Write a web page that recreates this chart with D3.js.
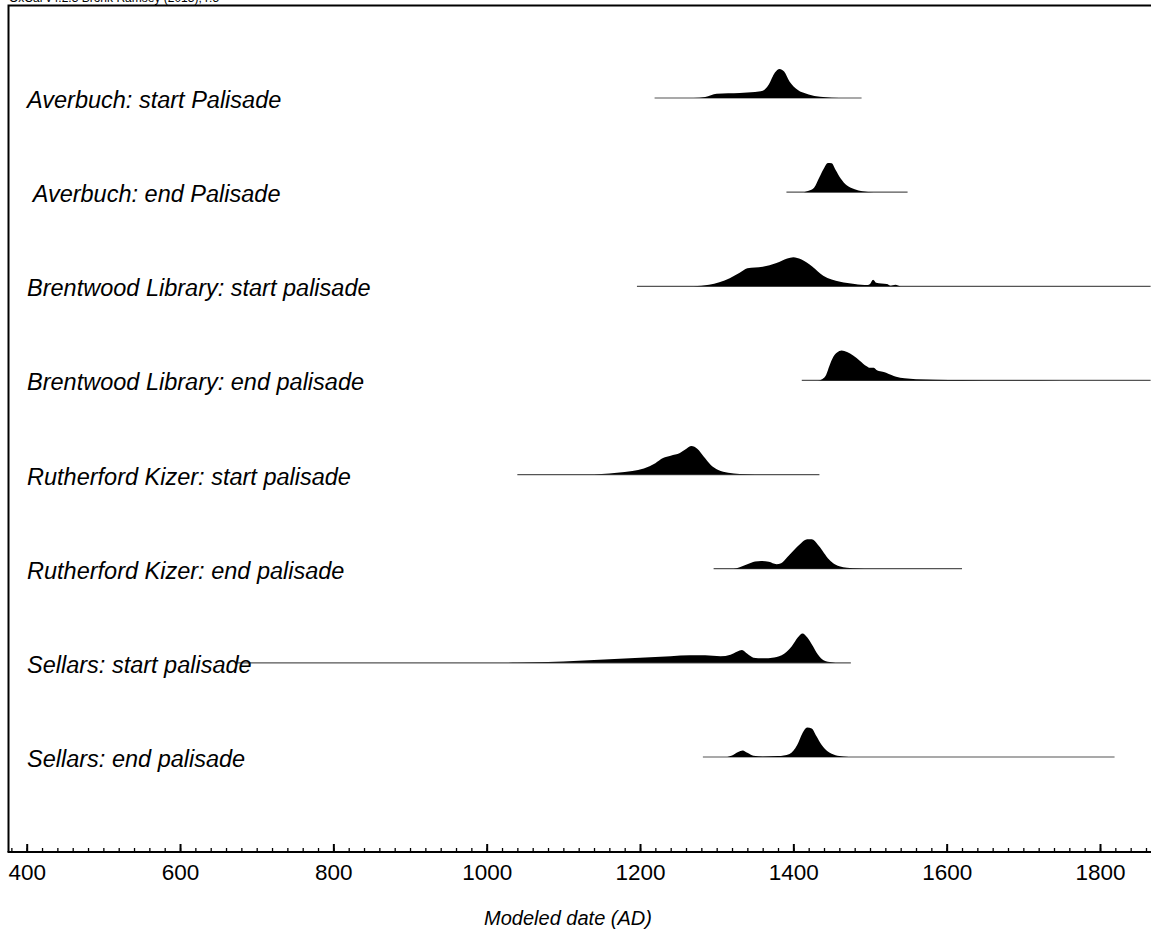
<!DOCTYPE html>
<html>
<head>
<meta charset="utf-8">
<script src="https://cdn.jsdelivr.net/npm/d3@7"></script>
<style>
  html, body { margin: 0; padding: 0; background: #fff; }
  svg { display: block; }
  text { font-family: "Liberation Sans", Arial, sans-serif; fill: #000; }
</style>
</head>
<body>
<svg id="chart" width="1151" height="936"></svg>
<script>
// Modeled posterior densities (relative probability, peak ~1) for each boundary.
const labels = [
  "Averbuch: start Palisade",
  " Averbuch: end Palisade",
  "Brentwood Library: start palisade",
  "Brentwood Library: end palisade",
  "Rutherford Kizer: start palisade",
  "Rutherford Kizer: end palisade",
  "Sellars: start palisade",
  "Sellars: end palisade"
];

// Range of each modeled span [from, to] (AD)
const ranges = [
  [1219, 1489],
  [1391, 1549],
  [1196, 1866],
  [1411, 1866],
  [1040, 1434],
  [1296, 1620],
  [675, 1475],
  [1282, 1819]
];

const averbuchStart = [[1219,0],[1270,0],[1285,0.03],[1300,0.14],[1315,0.16],[1330,0.17],[1350,0.2],[1360,0.24],[1368,0.45],[1376,0.85],[1382,0.97],[1388,0.88],[1395,0.55],[1405,0.28],[1420,0.12],[1435,0.04],[1450,0.01],[1470,0],[1489,0]];
const averbuchEnd = [[1391,0],[1412,0],[1420,0.05],[1427,0.15],[1434,0.5],[1440,0.8],[1445,0.97],[1450,0.96],[1455,0.75],[1462,0.45],[1470,0.22],[1480,0.1],[1490,0.03],[1505,0],[1549,0]];
const brentwoodStart = [[1196,0],[1270,0],[1290,0.05],[1317,0.27],[1330,0.45],[1340,0.6],[1360,0.65],[1378,0.78],[1392,0.93],[1400,0.97],[1410,0.9],[1425,0.65],[1439,0.35],[1461,0.15],[1480,0.08],[1497,0.04],[1500,0.08],[1504,0.22],[1508,0.12],[1515,0.09],[1522,0.08],[1527,0.02],[1533,0.05],[1540,0],[1866,0]];
const brentwoodEnd = [[1411,0],[1432,0],[1438,0.05],[1443,0.2],[1447,0.48],[1452,0.78],[1457,0.93],[1463,1.0],[1470,0.95],[1478,0.83],[1487,0.65],[1495,0.48],[1500,0.42],[1505,0.42],[1508,0.36],[1515,0.3],[1521,0.26],[1528,0.18],[1534,0.12],[1545,0.07],[1560,0.04],[1585,0.025],[1620,0.012],[1680,0.005],[1750,0],[1866,0]];
const rutherfordStart = [[1040,0],[1130,0],[1150,0.02],[1170,0.06],[1190,0.12],[1205,0.2],[1220,0.38],[1230,0.55],[1240,0.63],[1252,0.72],[1260,0.85],[1267,0.95],[1275,0.85],[1283,0.6],[1292,0.33],[1302,0.15],[1315,0.06],[1330,0.02],[1350,0.005],[1370,0],[1434,0]];
const rutherfordEnd = [[1296,0],[1322,0],[1330,0.05],[1340,0.15],[1350,0.24],[1358,0.26],[1368,0.23],[1378,0.15],[1384,0.18],[1392,0.38],[1400,0.6],[1410,0.85],[1418,0.98],[1424,0.98],[1432,0.8],[1438,0.6],[1445,0.35],[1452,0.18],[1460,0.08],[1470,0.03],[1485,0.01],[1500,0],[1620,0]];
const sellarsStart = [[675,0],[1000,0],[1040,0.01],[1080,0.03],[1120,0.07],[1160,0.12],[1200,0.17],[1240,0.22],[1265,0.25],[1285,0.25],[1305,0.22],[1318,0.27],[1327,0.38],[1333,0.43],[1340,0.3],[1348,0.17],[1360,0.15],[1375,0.18],[1388,0.3],[1398,0.55],[1406,0.85],[1412,0.98],[1418,0.85],[1425,0.58],[1432,0.28],[1440,0.08],[1450,0.02],[1460,0],[1475,0]];
const sellarsEnd = [[1282,0],[1312,0],[1320,0.05],[1328,0.17],[1334,0.22],[1340,0.14],[1348,0.04],[1360,0.02],[1380,0.03],[1395,0.1],[1405,0.4],[1412,0.8],[1418,0.98],[1424,0.95],[1430,0.7],[1437,0.4],[1445,0.18],[1455,0.06],[1465,0.02],[1480,0],[1819,0]];

const densities = [averbuchStart, averbuchEnd, brentwoodStart, brentwoodEnd,
                   rutherfordStart, rutherfordEnd, sellarsStart, sellarsEnd];

const majorTicks = [400, 600, 800, 1000, 1200, 1400, 1600, 1800];
const minorTicks = d3.range(380, 1861, 20);
const axisTitle = "Modeled date (AD)";
const header = "OxCal v4.2.3 Bronk Ramsey (2013); r:5";

// ---- drawing ----
const svg = d3.select("#chart");
const W = 1151, frameLeft = 8.5, frameTop = 5.5, axisY = 852;

const x = d3.scaleLinear().domain([400, 1800]).range([26.7, 1100]);
const y = d3.scalePoint().domain(d3.range(labels.length)).range([98, 757]);
const h = d3.scaleLinear().domain([0, 1]).range([0, 30]);

// header line, mostly cut off at the top edge
svg.append("text").attr("x", 9).attr("y", 2)
  .style("font-size", "12px").text(header);

// frame
svg.append("path")
  .attr("d", `M${frameLeft},${axisY} L${frameLeft},${frameTop} L${W},${frameTop}`)
  .attr("fill", "none").attr("stroke", "#000").attr("stroke-width", 2);

const rows = svg.append("g");
const area = d3.area()
  .x(d => x(d[0]))
  .y0(0)
  .y1(d => -h(d[1]))
  .curve(d3.curveMonotoneX);

labels.forEach((lab, i) => {
  const g = rows.append("g").attr("transform", `translate(0,${y(i)})`);
  g.append("line")
    .attr("x1", x(ranges[i][0])).attr("x2", Math.min(x(ranges[i][1]), W))
    .attr("y1", 0).attr("y2", 0)
    .attr("stroke", "#555").attr("stroke-width", 1.2);
  g.append("path")
    .datum(densities[i])
    .attr("d", area)
    .attr("fill", "#000");
  g.append("text")
    .attr("x", 27).attr("y", 10)
    .style("font-size", "23.5px").style("font-style", "italic")
    .attr("xml:space", "preserve")
    .text(lab);
});

// x axis: minor and major ticks pointing up
const minorAxis = d3.axisBottom(x).tickValues(minorTicks).tickSize(-4).tickFormat("");
const majorAxis = d3.axisBottom(x).tickValues(majorTicks).tickSize(-8).tickPadding(12)
  .tickFormat(d3.format("d"));

const gMinor = svg.append("g").attr("transform", `translate(0,${axisY})`).call(minorAxis);
const gMajor = svg.append("g").attr("transform", `translate(0,${axisY})`).call(majorAxis);
[gMinor, gMajor].forEach(g => {
  g.select(".domain").remove();
  g.selectAll("line").attr("stroke", "#000").attr("stroke-width", 1.3);
});
gMajor.selectAll("line").attr("stroke-width", 2);
gMajor.selectAll("text")
  .style("font-size", "22.5px")
  .style("font-family", "'Liberation Sans', Arial, sans-serif")
  .attr("fill", "#000");

svg.append("line")
  .attr("x1", frameLeft - 1).attr("x2", W)
  .attr("y1", axisY).attr("y2", axisY)
  .attr("stroke", "#000").attr("stroke-width", 2);

svg.append("text")
  .attr("x", 568).attr("y", 925)
  .attr("text-anchor", "middle")
  .style("font-size", "20px").style("font-style", "italic")
  .text(axisTitle);
</script>
</body>
</html>
